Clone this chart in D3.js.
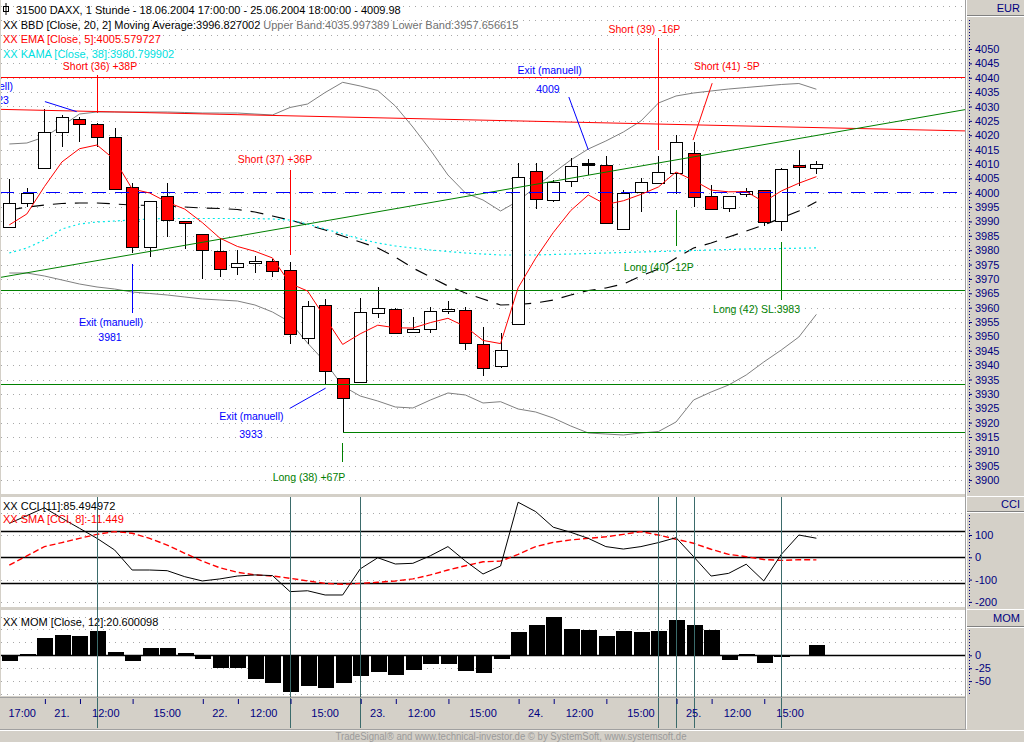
<!DOCTYPE html>
<html><head><meta charset="utf-8">
<script src="https://cdn.jsdelivr.net/npm/d3@7/dist/d3.min.js"></script>
<style>
body{margin:0;background:#d4d0c8;overflow:hidden;}
svg text{font-family:"Liberation Sans",Arial,sans-serif;}
</style></head><body>
<svg id="c" width="1024" height="742"></svg>
<script>
// ---------------- DATA ----------------
const opens  = [3988.0,3996.3,4008.5,4021.0,4025.5,4023.8,4019.3,4001.9,3981.0,3998.7,3990.0,3985.5,3979.6,3974.0,3975.4,3976.1,3973.0,3949.3,3960.8,3935.4,3934.0,3958.0,3959.4,3951.4,3952.5,3958.7,3959.1,3947.3,3939.6,3954.3,4007.6,3997.5,4004.0,4009.9,4009.5,3987.3,4000.1,4003.3,4006.8,4013.7,3999.0,3994.6,3999.4,4000.8,3990.0,4009.5,4008.5];
const highs  = [4004.8,4001.5,4029.1,4027.0,4026.2,4024.1,4022.4,4003.5,3997.0,4003.5,3990.0,3985.5,3984.1,3980.0,3977.9,3976.8,3975.8,3962.2,3962.9,3935.4,3963.3,3967.1,3959.8,3956.6,3960.1,3962.3,3960.1,3953.2,3951.1,4010.2,4010.2,4004.4,4012.0,4011.6,4012.8,4000.9,4005.0,4012.8,4020.1,4017.7,4002.7,3999.0,4001.5,4000.8,4008.5,4014.9,4011.0];
const lows   = [3988.0,3994.9,4008.5,4015.8,4017.5,4015.8,4001.2,3979.1,3977.7,3984.7,3980.3,3970.1,3970.8,3971.5,3972.0,3970.6,3947.3,3947.5,3933.3,3916.6,3934.0,3956.3,3950.7,3951.1,3951.3,3957.7,3945.2,3936.1,3938.9,3954.3,3994.2,3996.9,4002.1,4006.2,3989.4,3987.3,3993.4,4003.3,3999.5,3995.1,3994.2,3993.4,3998.6,3988.4,3986.8,4002.3,4006.5];
const closes = [3996.3,3999.8,4021.0,4026.2,4023.8,4019.3,4001.2,3981.0,3997.0,3990.4,3989.4,3980.2,3973.3,3975.4,3976.1,3972.7,3950.7,3960.5,3937.9,3928.5,3958.4,3959.8,3951.1,3952.6,3958.7,3959.4,3947.6,3938.9,3945.2,4005.6,3997.7,4003.8,4009.3,4009.9,3989.4,3999.8,4003.8,4007.2,4017.5,3998.4,3994.2,3999.0,4000.6,3989.7,4008.1,4008.8,4009.98];

const bbMiddle = [3993.98,3995.02,3995.72,3996.24,3996.42,3996.42,3996.07,3995.72,3995.55,3995.37,3995.02,3994.68,3994.50,3994.15,3993.28,3991.89,3990.50,3988.76,3987.02,3984.93,3982.85,3980.76,3977.63,3973.80,3970.67,3967.54,3965.10,3963.01,3960.93,3961.10,3961.62,3962.67,3964.41,3965.97,3966.84,3968.23,3971.02,3973.45,3977.28,3980.76,3982.50,3984.59,3986.67,3988.76,3991.20,3993.63,3996.83];
const bbUpper  = [4016.95,4017.29,4019.38,4023.21,4027.38,4028.08,4028.08,4028.08,4028.08,4028.08,4027.91,4027.73,4027.73,4027.73,4027.38,4027.04,4029.65,4030.86,4034.86,4038.41,4037.13,4035.56,4030.17,4022.86,4014.86,4006.16,3999.90,3997.46,3993.63,3997.11,4001.98,4006.85,4011.38,4015.21,4017.99,4021.12,4024.95,4031.21,4033.65,4034.69,4035.39,4036.08,4036.60,4037.13,4037.65,4038.00,4036.00];
const bbLower  = [3972.06,3972.06,3971.02,3969.63,3968.23,3967.19,3966.49,3965.45,3964.93,3964.41,3963.71,3963.02,3962.67,3962.32,3960.93,3958.49,3955.01,3947.70,3941.09,3932.74,3929.26,3927.52,3925.44,3925.09,3927.87,3930.31,3929.61,3926.83,3927.28,3924.74,3923.70,3921.61,3918.82,3916.39,3916.04,3915.69,3916.39,3916.91,3920.22,3927.87,3930.66,3933.09,3936.57,3941.09,3945.27,3949.79,3957.66];
const ema5     = [3988.8,3992.6,4002.1,4010.7,4015.3,4016.6,4011.5,4001.3,3999.9,3996.7,3994.3,3989.6,3984.2,3981.3,3979.6,3977.3,3968.4,3965.8,3956.5,3947.2,3950.9,3953.9,3953.0,3952.9,3954.8,3956.3,3953.4,3948.6,3947.5,3966.9,3977.2,3986.1,3993.8,3999.2,3995.9,3997.2,3999.4,4002.0,4007.2,4004.3,4000.9,4000.3,4000.4,3996.8,4000.6,4003.3,4005.58];
const kama38   = [3979.02,3980.76,3983.54,3987.37,3989.11,3989.81,3990.15,3990.50,3990.85,3991.02,3991.02,3991.02,3991.02,3991.02,3991.02,3990.85,3990.50,3989.11,3987.37,3985.63,3983.89,3982.50,3981.45,3980.76,3980.06,3979.54,3979.02,3978.67,3978.32,3978.32,3978.32,3978.50,3978.67,3978.84,3979.02,3979.19,3979.37,3979.54,3979.71,3979.89,3980.06,3980.24,3980.41,3980.48,3980.58,3980.69,3980.80];

const cci11    = [152,187,222,175,130,85,33,-57,-57,-60,-87,-106,-97,-84,-79,-82,-154,-150,-169,-169,-52,-2,-30,-27,7,48,-17,-75,-39,247,205,135,112,85,48,37,48,66,88,3,-84,-72,-31,-106,13,100,85.5];
const cciSma8  = [-35,6,48,66,85,103,115,108,85,55,18,-17,-47,-67,-79,-84,-94,-106,-117,-121,-117,-112,-106,-97,-79,-57,-38,-20,-17,13,48,67,78,85,92,103,115,100,81,63,36,13,3,-10,-14,-11,-11.4];
const mom12    = [-11,2,33,39,37,46.5,6,-11,13.6,13.6,4,-7,-24,-24,-46,-53,-72,-59.5,-63,-53.6,-40,-32,-38,-27.8,-16,-16,-30,-34,-6.5,45,59,74,51,49,37,47,45,47,68.5,59,50,-9.7,2.6,-15.5,-3,0,20.6];

const priceTicks = d3.range(3900, 4051, 5);
const cciTicks = [100, 0, -100, -200];
const cciLevels = [116, 0, -116];
const momTicks = [0, -25, -50];
const timeTickBars = [2,4,7,11,13,16,20,22,25,29,31,34,38,40,43];
const timeLabels = ["17:00","21.","12:00","15:00","22.","12:00","15:00","23.","12:00","15:00","24.","12:00","15:00","25.","12:00","15:00"];
const signalBars = [5,16,20,37,38,39,44];

// horizontal / trend lines: [barIndex, price] endpoints
const redLines   = [[[-0.53,4040],[54.47,4040]], [[-0.53,4029.0],[54.47,4021.5]]];
const greenLines = [[[-0.53,3970.5],[54.47,4028.9]], [[-0.53,3965.8],[54.47,3965.8]], [[-0.53,3933.3],[54.47,3933.3]], [[19,3916.6],[54.47,3916.6]]];
const blueDashed = [[-0.53,4000],[54.47,4000]];

// trade annotations
const annLines = [
  {c:"red",  p:[[5,4040.9],[5,4027.7]]},
  {c:"red",  p:[[16,4007.9],[16,3978.3]]},
  {c:"blue", p:[[7,3975.2],[7,3958.2]]},
  {c:"blue", p:[[16.0,3925.0],[18.03,3932.0]]},
  {c:"green",p:[[19,3913.0],[19,3906.2]]},
  {c:"blue", p:[[31.89,4033.3],[33.0,4014.9]]},
  {c:"red",  p:[[37,4053.8],[37,4014.9]]},
  {c:"green",p:[[38,3994.0],[38,3981.6]]},
  {c:"red",  p:[[40.06,4038.1],[38.97,4018.3]]},
  {c:"green",p:[[44,3982.9],[44,3962.7]]},
  {c:"blue", p:[[2.03,4031.7],[3.84,4028.2]]}
];
const annTexts = [
  {t:"Short (36) +38P", c:"red", i:5.17, p:4044.1, a:"middle"},
  {t:"Short (37) +36P", c:"red", i:15.14, p:4011.7, a:"middle"},
  {t:"Exit (manuell)", c:"blue", i:5.8, p:3955.0, a:"middle"},
  {t:"3981", c:"blue", i:5.74, p:3949.8, a:"middle"},
  {t:"Exit (manuell)", c:"blue", i:13.8, p:3922.3, a:"middle"},
  {t:"3933", c:"blue", i:13.77, p:3916.0, a:"middle"},
  {t:"Long (38) +67P", c:"green", i:17.08, p:3901.1, a:"middle"},
  {t:"Exit (manuell)", c:"blue", i:30.8, p:4042.7, a:"middle"},
  {t:"4009", c:"blue", i:30.7, p:4036.1, a:"middle"},
  {t:"Short (39) -16P", c:"red", i:36.2, p:4056.9, a:"middle"},
  {t:"Long (40) -12P", c:"green", i:37.02, p:3974.1, a:"middle"},
  {t:"Short (41) -5P", c:"red", i:40.9, p:4044.1, a:"middle"},
  {t:"Long (42) SL:3983", c:"green", i:42.59, p:3959.5, a:"middle"},
  {t:"Exit (manuell)", c:"blue", i:0.21, p:4037.1, a:"end"},
  {t:"4023", c:"blue", i:-0.02, p:4032.3, a:"end"}
];

// ---------------- DRAW ----------------
const GRAY="#d4d0c8", NAVY="#000080", RED="#ff0000", GREEN="#008000", BLUE="#0000ff";
const svg = d3.select("#c");
svg.append("rect").attr("width",1024).attr("height",742).attr("fill",GRAY);

const P = {main:{y0:0,y1:494}, cci:{y0:497,y1:607}, mom:{y0:610,y1:696}};
const X0=1, X1=965;

const x = d3.scaleLinear().domain([-0.53,54.47]).range([0,965]);
const yM = d3.scaleLinear().domain([3900,4050]).range([480.1,49.0]);
const yC = d3.scaleLinear().domain([-200,200]).range([601.9,512.7]);
const yO = d3.scaleLinear().domain([-50,0]).range([681.1,655.3]);

const defs = svg.append("defs");
Object.entries(P).forEach(([k,v])=>{
  defs.append("clipPath").attr("id","clip-"+k).append("rect")
    .attr("x",X0).attr("y",v.y0).attr("width",X1-X0).attr("height",v.y1-v.y0);
  svg.append("rect").attr("x",X0).attr("y",v.y0).attr("width",X1-X0).attr("height",v.y1-v.y0).attr("fill","#fff");
});
// separator to axis column
svg.append("line").attr("x1",965.5).attr("x2",965.5).attr("y1",0).attr("y2",729).attr("stroke","#a0a0a0");
svg.append("line").attr("x1",966.5).attr("x2",966.5).attr("y1",0).attr("y2",729).attr("stroke","#fff");

// ===== MAIN PANEL =====
const gM = svg.append("g").attr("clip-path","url(#clip-main)");
// grid
gM.selectAll(".gm").data(d3.range(3900,4066,5)).join("line")
  .attr("x1",X0).attr("x2",X1).attr("y1",d=>Math.round(yM(d))+0.5).attr("y2",d=>Math.round(yM(d))+0.5)
  .attr("stroke","#a8a8a8").attr("stroke-dasharray","1,5");

const lineM = arr => d3.line().x((d,i)=>x(i)).y(d=>yM(d))(arr);
// bollinger bands
gM.append("path").attr("d",lineM(bbUpper)).attr("fill","none").attr("stroke","#808080").attr("stroke-width",1);
gM.append("path").attr("d",lineM(bbLower)).attr("fill","none").attr("stroke","#808080").attr("stroke-width",1);
gM.append("path").attr("d",lineM(bbMiddle)).attr("fill","none").attr("stroke","#000").attr("stroke-width",1.2).attr("stroke-dasharray","13,9");
gM.append("path").attr("d",lineM(kama38)).attr("fill","none").attr("stroke","#00e8e8").attr("stroke-width",1.2).attr("stroke-dasharray","2,3");

// candles
const gC = gM.append("g").attr("shape-rendering","crispEdges");
closes.forEach((c,i)=>{
  const cx = Math.round(x(i));
  const o = opens[i];
  gC.append("line").attr("x1",cx+0.5).attr("x2",cx+0.5).attr("y1",yM(highs[i])).attr("y2",yM(lows[i])).attr("stroke","#000");
  const top = yM(Math.max(o,c)), bot = yM(Math.min(o,c));
  if (Math.abs(o-c) < 0.3) {
    gC.append("rect").attr("x",cx-6).attr("y",top-1).attr("width",13).attr("height",3).attr("fill","#000");
  } else {
    gC.append("rect").attr("x",cx-5.5).attr("y",Math.round(top)+0.5).attr("width",12)
      .attr("height",Math.max(1,Math.round(bot)-Math.round(top)))
      .attr("fill", c>=o ? "#fff" : RED).attr("stroke","#000");
  }
});

// trend lines
const seg = (g,p,col,dash)=>g.append("line")
  .attr("x1",x(p[0][0])).attr("y1",yM(p[0][1])).attr("x2",x(p[1][0])).attr("y2",yM(p[1][1]))
  .attr("stroke",col).attr("stroke-width",1).attr("stroke-dasharray",dash||null)
  .attr("shape-rendering", p[0][1]===p[1][1]||p[0][0]===p[1][0] ? "crispEdges" : null);
redLines.forEach(p=>seg(gM,p,RED));
greenLines.forEach(p=>seg(gM,p,GREEN));
seg(gM,blueDashed,BLUE,"14,9").attr("stroke-width",1.3);

// EMA
gM.append("path").attr("d",lineM(ema5)).attr("fill","none").attr("stroke",RED).attr("stroke-width",1);

// annotations
annLines.forEach(a=>seg(gM,a.p,a.c==="red"?RED:a.c==="green"?GREEN:BLUE));
gM.selectAll(".ann").data(annTexts).join("text")
  .attr("x",d=>x(d.i)).attr("y",d=>yM(d.p)+4).attr("text-anchor",d=>d.a)
  .attr("fill",d=>d.c==="red"?RED:d.c==="green"?GREEN:BLUE)
  .style("font-size","10.5px").text(d=>d.t);

// header
const hdr = svg.append("g").style("font-size","11px").style("white-space","pre");
hdr.append("rect").attr("x",3.5).attr("y",6.5).attr("width",5).attr("height",5).attr("fill","#fff").attr("stroke","#000");
hdr.append("line").attr("x1",6).attr("x2",6).attr("y1",3).attr("y2",15).attr("stroke","#000");
hdr.append("text").attr("x",16).attr("y",14).attr("fill","#000")
  .text("31500  DAXX, 1 Stunde - 18.06.2004 17:00:00 - 25.06.2004 18:00:00 - 4009.98");
const h2 = hdr.append("text").attr("x",3).attr("y",28.5);
h2.append("tspan").attr("fill","#000").text("XX BBD [Close, 20, 2] Moving Average:3996.827002");
h2.append("tspan").attr("fill","#707070").text(" Upper Band:4035.997389 Lower Band:3957.656615");
hdr.append("text").attr("x",3).attr("y",43).attr("fill",RED).text("XX EMA [Close, 5]:4005.579727");
hdr.append("text").attr("x",3).attr("y",57.5).attr("fill","#00e0e0").text("XX KAMA [Close, 38]:3980.799902");

// ===== CCI PANEL =====
const gCC = svg.append("g").attr("clip-path","url(#clip-cci)");
gCC.selectAll(".gc").data([200,100,0,-100,-200]).join("line")
  .attr("x1",X0).attr("x2",X1).attr("y1",d=>Math.round(yC(d))+0.5).attr("y2",d=>Math.round(yC(d))+0.5)
  .attr("stroke","#a8a8a8").attr("stroke-dasharray","1,5");
gCC.selectAll(".lv").data(cciLevels).join("line")
  .attr("x1",X0).attr("x2",X1).attr("y1",d=>Math.round(yC(d))+0.5).attr("y2",d=>Math.round(yC(d))+0.5)
  .attr("stroke","#000").attr("stroke-width",1.3);
const lineC = arr => d3.line().x((d,i)=>x(i)).y(d=>yC(d))(arr);
gCC.append("path").attr("d",lineC(cciSma8)).attr("fill","none").attr("stroke",RED).attr("stroke-width",1.4).attr("stroke-dasharray","6,3");
gCC.append("path").attr("d",lineC(cci11)).attr("fill","none").attr("stroke","#000").attr("stroke-width",1);
const tC = svg.append("g").style("font-size","11px");
tC.append("text").attr("x",3).attr("y",509.5).attr("fill","#000").text("XX CCI [11]:85.494972");
tC.append("text").attr("x",3).attr("y",523).attr("fill",RED).text("XX SMA [CCI, 8]:-11.449");

// ===== MOM PANEL =====
const gO = svg.append("g").attr("clip-path","url(#clip-mom)");
gO.selectAll(".go").data([75,50,25,-25,-50,-75]).join("line")
  .attr("x1",X0).attr("x2",X1).attr("y1",d=>Math.round(yO(d))+0.5).attr("y2",d=>Math.round(yO(d))+0.5)
  .attr("stroke","#a8a8a8").attr("stroke-dasharray","1,5");
gO.selectAll(".bar").data(mom12).join("rect").attr("shape-rendering","crispEdges")
  .attr("x",(d,i)=>Math.round(x(i))-7).attr("width",16)
  .attr("y",d=>Math.min(yO(d),yO(0))).attr("height",d=>Math.abs(yO(d)-yO(0)))
  .attr("fill","#000");
gO.append("line").attr("x1",X0).attr("x2",X1).attr("y1",Math.round(yO(0))+0.5).attr("y2",Math.round(yO(0))+0.5).attr("stroke","#000").attr("stroke-width",1.3);
svg.append("text").attr("x",3).attr("y",625.5).style("font-size","11px").attr("fill","#000").text("XX MOM [Close, 12]:20.600098");

// signal verticals in lower panels
svg.selectAll(".sig").data(signalBars).join("line").attr("shape-rendering","crispEdges")
  .attr("x1",d=>Math.round(x(d))+0.5).attr("x2",d=>Math.round(x(d))+0.5).attr("y1",497).attr("y2",728)
  .attr("stroke","#3b6b6b");

// ===== X AXIS =====
svg.append("line").attr("x1",0).attr("x2",966).attr("y1",697.5).attr("y2",697.5).attr("stroke","#a0a0a0");
svg.append("line").attr("x1",0).attr("x2",966).attr("y1",729.5).attr("y2",729.5).attr("stroke","#a0a0a0");
svg.append("line").attr("x1",0).attr("x2",1024).attr("y1",730.5).attr("y2",730.5).attr("stroke","#fff");
const xa = svg.append("g").attr("transform","translate(0,699)")
  .call(d3.axisBottom(x).tickValues(timeTickBars).tickSize(5).tickFormat(""));
xa.select(".domain").remove();
xa.selectAll("line").attr("stroke",NAVY).attr("transform","translate(0.5,0)");
const bounds = [-0.53, ...timeTickBars, closes.length-1];
svg.selectAll(".xl").data(timeLabels).join("text")
  .attr("x",(d,k)=>x((bounds[k]+bounds[k+1])/2)).attr("y",717).attr("text-anchor","middle")
  .attr("fill",NAVY).style("font-size","11px").text(d=>d);

// ===== RIGHT AXES =====
function rightAxis(scale, ticks, yTop, yBot, title, titleY0, titleY1){
  svg.append("line").attr("x1",967).attr("x2",1024).attr("y1",titleY1+0.5).attr("y2",titleY1+0.5).attr("stroke","#808080");
  svg.append("line").attr("x1",967).attr("x2",1024).attr("y1",titleY1+1.5).attr("y2",titleY1+1.5).attr("stroke","#fff");
  svg.append("text").attr("x",1020).attr("y",(titleY0+titleY1)/2+4).attr("text-anchor","end")
    .attr("fill",NAVY).style("font-size","11px").text(title);
  svg.append("line").attr("x1",969.5).attr("x2",969.5).attr("y1",yTop).attr("y2",yBot)
    .attr("stroke",NAVY).attr("stroke-dasharray","1,2");
  const g = svg.append("g").attr("transform","translate(969,0)")
    .call(d3.axisRight(scale).tickValues(ticks).tickSize(3).tickPadding(3).tickFormat(d=>String(d)));
  g.select(".domain").remove();
  g.selectAll("line").attr("stroke",NAVY);
  g.selectAll("text").attr("fill",NAVY).style("font-size","11px").attr("font-family","Liberation Sans, Arial, sans-serif");
}
rightAxis(yM, priceTicks, 20, 494, "EUR", 0, 15);
svg.append("rect").attr("x",967).attr("y",494).attr("width",57).attr("height",3).attr("fill",GRAY);
svg.append("line").attr("x1",967).attr("x2",1024).attr("y1",496.5).attr("y2",496.5).attr("stroke","#fff");
rightAxis(yC, cciTicks, 515, 606, "CCI", 497, 511);
svg.append("line").attr("x1",967).attr("x2",1024).attr("y1",609.5).attr("y2",609.5).attr("stroke","#fff");
rightAxis(yO, momTicks, 630, 695, "MOM", 610, 626);

// footer
svg.append("text").attr("x",511).attr("y",739.5).attr("text-anchor","middle").attr("fill","#9a9a9a")
  .style("font-size","10px").attr("textLength",351).attr("lengthAdjust","spacingAndGlyphs")
  .text("TradeSignal® and www.technical-investor.de © by SystemSoft, www.systemsoft.de");
</script>
</body></html>
